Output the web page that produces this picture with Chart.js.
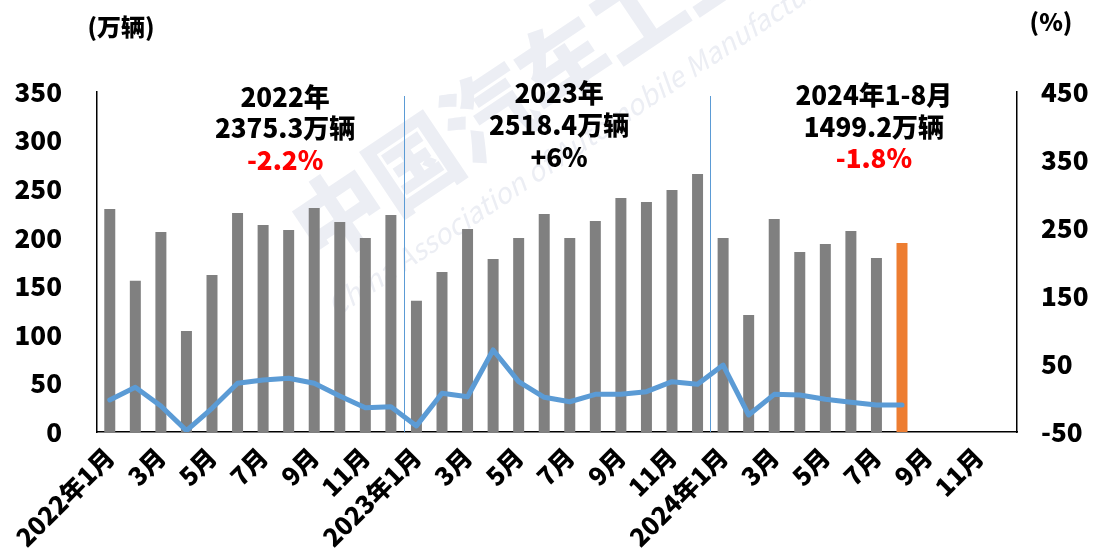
<!DOCTYPE html>
<html>
<head>
<meta charset="utf-8">
<script src="https://cdn.jsdelivr.net/npm/chart.js@4/dist/chart.umd.min.js"></script>
<style>
    html, body { margin: 0; padding: 0; background: #fff; }
    #wrap { width: 1097px; height: 555px; position: relative; }
</style>
</head>
<body>
<div id="wrap"><canvas id="chart"></canvas></div>
<script>
// months 2022-01 .. 2024-12
const years = ['2022', '2023', '2024'];
const months = [];
years.forEach(y => {
    for (let m = 1; m <= 12; m++) months.push(m === 1 ? y + '年1月' : m + '月');
});

// 销量 (万辆)
const sales2022 = [229.6, 155.8, 205.9, 104.0, 161.6, 225.4, 213.1, 208.0, 230.6, 216.2, 199.7, 223.4];
const sales2023 = [135.2, 164.7, 209.0, 178.0, 199.7, 224.4, 199.7, 217.2, 240.9, 236.8, 249.1, 265.6];
const sales2024 = [199.7, 120.4, 219.3, 185.3, 193.5, 206.9, 179.1, 194.6, null, null, null, null];

// 同比增长 (%)
const growth2022 = [-2.9, 15.7, -11.8, -48.0, -15.1, 21.6, 26.5, 29.0, 21.6, 3.0, -14.3, -12.8];
const growth2023 = [-41.0, 6.9, 1.9, 70.6, 24.0, 1.0, -5.5, 5.4, 5.4, 9.3, 24.0, 20.1];
const growth2024 = [48.5, -25.0, 5.4, 4.4, -1.9, -6.3, -10.3, -10.3, null, null, null, null];

const sales = [...sales2022, ...sales2023, ...sales2024];
const growth = [...growth2022, ...growth2023, ...growth2024];
const latestIndex = 31; // 2024年8月

const yearNotes = [
    { center: 6.86, lines: ['2022年', '2375.3万辆', '-2.2%'], tops: [97, 128, 160], red: true },
    { center: 17.58, lines: ['2023年', '2518.4万辆', '+6%'], tops: [93, 125, 157], red: false },
    { center: 29.9, lines: ['2024年1-8月', '1499.2万辆', '-1.8%'], tops: [95, 127, 158], red: true }
];

const FONT = '"Noto Sans CJK SC", "Noto Sans", sans-serif';

const barColors = sales.map((v, i) => i === latestIndex ? '#ed7d31' : '#808080');

// faint association watermark behind the bars
const watermark = {
    id: 'watermark',
    beforeDatasetsDraw(chart) {
        const c = chart.ctx;
        c.save();
        c.fillStyle = '#eceef4';
        c.translate(600, 38);
        c.rotate(-0.59);
        c.font = '900 90px ' + FONT;
        c.textAlign = 'center';
        c.textBaseline = 'middle';
        c.fillText('中国汽车工业协会', 0, 0);
        c.textAlign = 'left';
        c.font = 'italic 28px ' + FONT;
        c.fillText('China Association of Automobile Manufacturers', -375, 75);
        c.restore();
    }
};

const notes = {
    id: 'notes',
    afterDraw(chart) {
        const c = chart.ctx;
        const x = chart.scales.x;
        const area = chart.chartArea;
        c.save();
        // year separators
        c.strokeStyle = '#5b9bd5';
        c.lineWidth = 1;
        [11.5, 23.5].forEach(v => {
            const px = Math.round((x.getPixelForValue(Math.floor(v)) + x.getPixelForValue(Math.ceil(v))) / 2) + 0.5;
            c.beginPath();
            c.moveTo(px, 96);
            c.lineTo(px, area.bottom);
            c.stroke();
        });
        c.textAlign = 'center';
        c.textBaseline = 'middle';
        c.font = '900 26px ' + FONT;
        yearNotes.forEach(n => {
            const cx = x.left + (n.center + 0.5) * (x.width / months.length);
            n.lines.forEach((t, i) => {
                c.fillStyle = (i === 2 && n.red) ? '#ff0000' : '#000';
                c.fillText(t, cx, n.tops[i]);
            });
        });
        // axis units
        c.font = '900 24px ' + FONT;
        c.fillStyle = '#000';
        c.fillText('(万辆)', 121, 27);
        c.fillText('(%)', 1051, 22);
        c.restore();
    }
};

const ctx = document.getElementById('chart').getContext('2d');

new Chart(ctx, {
    data: {
        labels: months,
        datasets: [
            {
                type: 'line',
                label: '同比增长',
                data: growth,
                yAxisID: 'y1',
                borderColor: '#5b9bd5',
                borderWidth: 5,
                pointRadius: 0,
                tension: 0,
                borderCapStyle: 'round',
                borderJoinStyle: 'round',
                order: 0
            },
            {
                type: 'bar',
                label: '销量',
                data: sales,
                yAxisID: 'y',
                backgroundColor: barColors,
                barPercentage: 0.43,
                categoryPercentage: 1,
                order: 1
            }
        ]
    },
    options: {
        responsive: true,
        maintainAspectRatio: false,
        animation: false,
        layout: { padding: { top: 92, right: 0, left: 0, bottom: 0 } },
        plugins: {
            legend: { display: false },
            tooltip: { enabled: false }
        },
        scales: {
            x: {
                offset: true,
                grid: { display: false, drawTicks: false },
                border: { display: true, color: '#000', width: 1.5 },
                afterFit: (s) => { s.height = 123; },
                ticks: {
                    autoSkip: false,
                    maxRotation: 45,
                    minRotation: 45,
                    padding: 10,
                    color: '#000',
                    font: { family: FONT, size: 25, weight: '900' },
                    callback: function (v, i) { return i % 2 === 0 ? this.getLabelForValue(v) : ''; }
                }
            },
            y: {
                position: 'left',
                min: 0,
                max: 350,
                grid: { display: false, drawTicks: false },
                border: { display: true, color: '#000', width: 1.5 },
                afterFit: (s) => { s.width = 97; },
                ticks: {
                    stepSize: 50,
                    padding: 35,
                    color: '#000',
                    font: { family: FONT, size: 26, weight: '900' }
                }
            },
            y1: {
                position: 'right',
                min: -50,
                max: 450,
                grid: { display: false, drawTicks: false },
                border: { display: true, color: '#000', width: 1.5 },
                afterFit: (s) => { s.width = 80; },
                ticks: {
                    stepSize: 100,
                    padding: 24,
                    color: '#000',
                    font: { family: FONT, size: 26, weight: '900' }
                }
            }
        }
    },
    plugins: [watermark, notes]
});
</script>
</body>
</html>
